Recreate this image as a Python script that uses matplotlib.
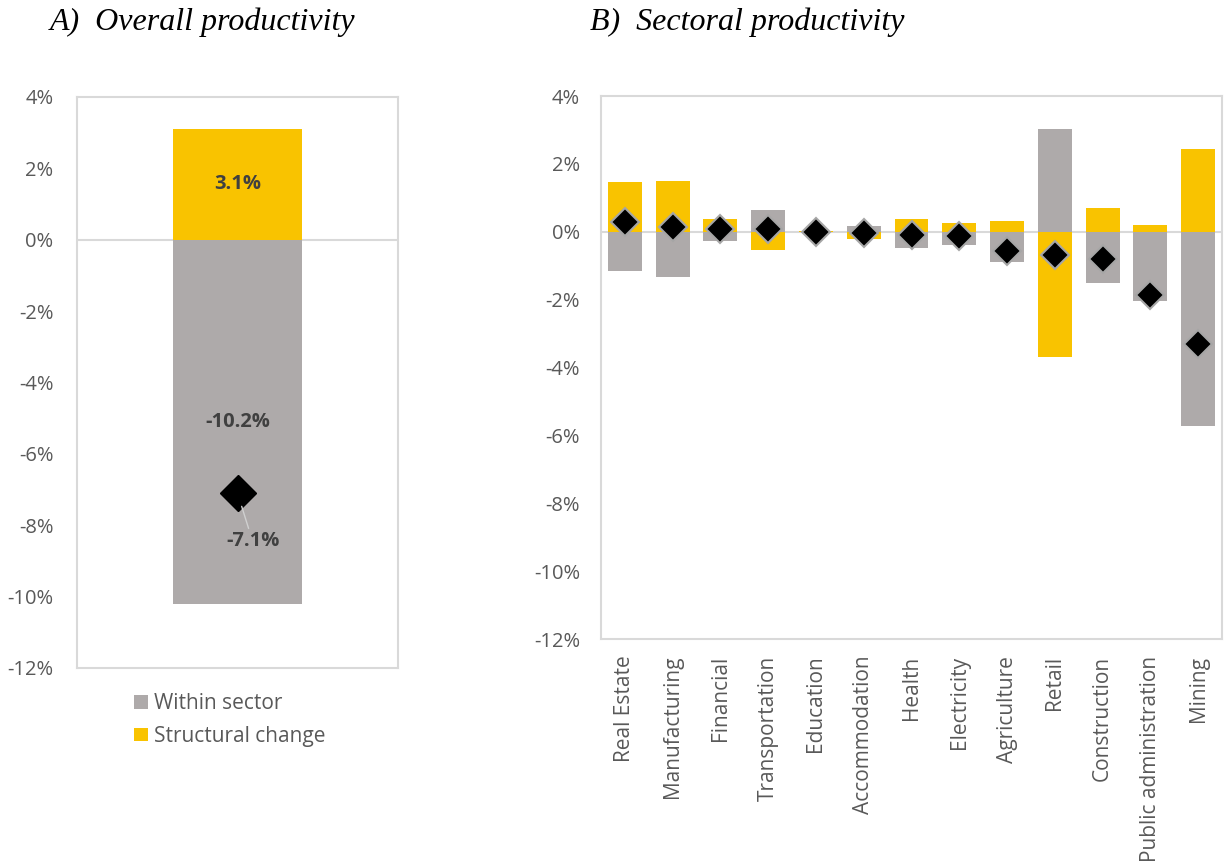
import matplotlib
matplotlib.use("Agg")
import matplotlib.pyplot as plt
import numpy as np
from matplotlib.ticker import FuncFormatter

# ---- data ----
overall_within = -10.2
overall_structural = 3.1
overall_total = -7.1

sectors = ["Real Estate", "Manufacturing", "Financial", "Transportation", "Education",
           "Accommodation", "Health", "Electricity", "Agriculture", "Retail",
           "Construction", "Public administration", "Mining"]
within = [-1.17, -1.32, -0.28, 0.63, -0.01, 0.17, -0.48, -0.38, -0.88, 3.03, -1.50, -2.05, -5.73]
structural = [1.46, 1.49, 0.37, -0.54, 0.01, -0.21, 0.39, 0.25, 0.33, -3.70, 0.70, 0.20, 2.43]
total = [0.29, 0.15, 0.08, 0.08, 0.00, -0.04, -0.09, -0.13, -0.56, -0.68, -0.81, -1.85, -3.30]

GRAY = "#AEAAAA"
YELLOW = "#F9C300"
SPINE = "#D9D9D9"
TXT = "#595959"
FONT = "Open Sans"

plt.rcParams['font.family'] = [FONT, 'DejaVu Sans']

fig = plt.figure(figsize=(12.25, 8.61), dpi=100)
axA = fig.add_axes([0.0629, 0.2242, 0.262, 0.6632])
axB = fig.add_axes([0.4906, 0.2578, 0.507, 0.6307])

pct = FuncFormatter(lambda v, p: f"{v:.0f}%")

def style(ax, pad):
    for s in ax.spines.values():
        s.set_color(SPINE)
        s.set_linewidth(1.5)
    ax.set_ylim(-12, 4)
    ax.set_yticks(np.arange(-12, 5, 2))
    ax.yaxis.set_major_formatter(pct)
    ax.tick_params(axis='y', length=0, pad=pad, labelsize=14.5, labelcolor=TXT)
    ax.axhline(0, color=SPINE, lw=1.5, zorder=1)

# ---- Panel A ----
style(axA, 17)
axA.set_xlim(-0.5, 0.5)
axA.bar([0], [overall_within], width=0.4, color=GRAY, label="Within sector", zorder=2)
axA.bar([0], [overall_structural], width=0.4, color=YELLOW, label="Structural change", zorder=2)
axA.plot([0], [overall_total], marker='D', ms=18.5, color='black', mec='black', ls='none', zorder=4)
axA.set_xticks([])
lab_kw = dict(ha='center', va='center', fontsize=14.5, fontweight='bold', color="#404040", zorder=5)
axA.text(0, overall_structural / 2, f"{overall_structural:.1f}%", **lab_kw)
axA.text(0, overall_within / 2, f"{overall_within:.1f}%", **lab_kw)
axA.annotate(f"{overall_total:.1f}%", xy=(0, overall_total), xytext=(0.047, -8.45),
             arrowprops=dict(arrowstyle='-', color='#D0D0D0', lw=1, shrinkA=0, shrinkB=10),
             **lab_kw)
leg = axA.legend(loc='upper left', bbox_to_anchor=(126 / 1225, 1 - 685 / 861),
                 bbox_transform=fig.transFigure, frameon=False, fontsize=15,
                 handlelength=0.65, handleheight=0.65, handletextpad=0.3,
                 labelspacing=0.55, borderaxespad=0)
for t in leg.get_texts():
    t.set_color(TXT)

# ---- Panel B ----
style(axB, 15)
x = np.arange(len(sectors))
axB.set_xlim(-0.5, len(sectors) - 0.5)
axB.bar(x, within, width=0.71, color=GRAY, zorder=2)
axB.bar(x, structural, width=0.71, color=YELLOW, zorder=2)
axB.plot(x, total, marker='D', ms=14, color='black', mec='#A6A6A6', mew=1.5, ls='none', zorder=4)
axB.set_xticks(x)
axB.set_xticklabels(sectors, rotation=90, fontsize=15, color=TXT)
axB.tick_params(axis='x', length=0, pad=12)

# ---- Titles ----
fig.text(50 / 1225, 1 - 22 / 861, "A)  Overall productivity", family="Liberation Serif",
         style='italic', fontsize=23, ha='left', va='center', color='black')
fig.text(590 / 1225, 1 - 22 / 861, "B)  Sectoral productivity", family="Liberation Serif",
         style='italic', fontsize=23, ha='left', va='center', color='black')

fig.savefig("out.png", dpi=100)
